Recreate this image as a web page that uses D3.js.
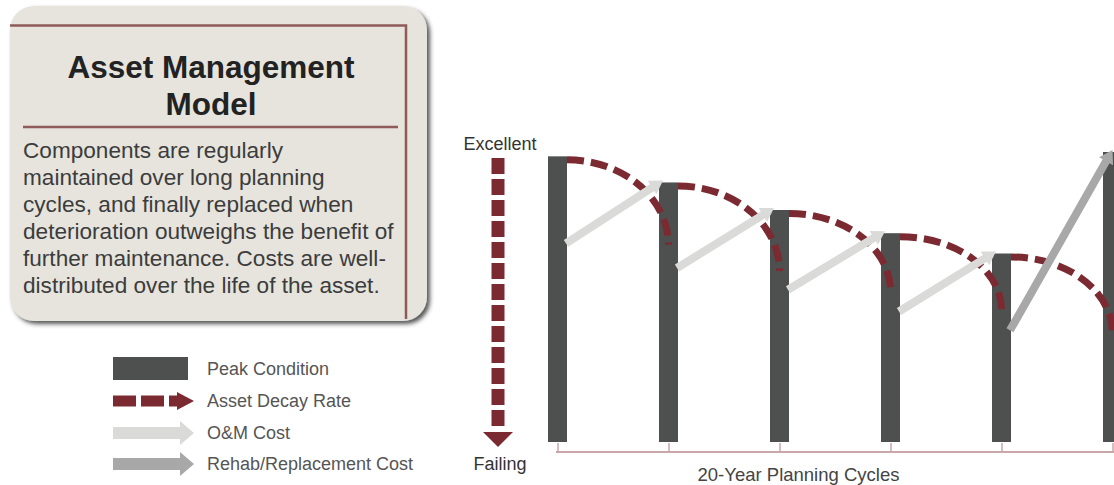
<!DOCTYPE html>
<html>
<head>
<meta charset="utf-8">
<script src="https://cdn.jsdelivr.net/npm/d3@7"></script>
<style>
  html, body { margin: 0; padding: 0; background: #ffffff; }
  svg { display: block; }
  text { font-family: "Liberation Sans", Arial, Helvetica, sans-serif; }
</style>
</head>
<body>
<svg id="chart" width="1114" height="485"></svg>
<script>
// Planning cycles (bar positions along the horizontal axis)
const cycles = [0, 1, 2, 3, 4, 5];
// Condition reached at the start of each cycle (0 = failing, 100 = excellent)
const peakCondition = [98.5, 89.5, 80, 72, 65, 100];
// Condition reached at the end of each decay curve
const decayEnd = [68, 59, 52, 45.5, 37.5];
// Condition at which spending starts in each cycle
const costStart = [68.5, 60, 52.5, 45, 38.5];
const costType = ["om", "om", "om", "om", "rehab"];

const titleLines = ["Asset Management", "Model"];
const bodyLines = [
  "Components are regularly",
  "maintained over long planning",
  "cycles, and finally replaced when",
  "deterioration outweighs the benefit of",
  "further maintenance. Costs are well-",
  "distributed over the life of the asset."
];
const legendLabels = ["Peak Condition", "Asset Decay Rate", "O&M Cost", "Rehab/Replacement Cost"];
const axisLabels = { top: "Excellent", bottom: "Failing", x: "20-Year Planning Cycles" };

const colors = {
  bar: "#4e5050",
  decay: "#7c2a31",
  om: "#dadad8",
  rehab: "#a8a8a8",
  boxFill: "#e6e4dd",
  boxLine: "#8f5a5a",
  axis: "#c9a7a9"
};

const svg = d3.select("#chart");
const defs = svg.append("defs");
const shadow = defs.append("filter").attr("id", "boxShadow")
  .attr("x", "-5%").attr("y", "-5%").attr("width", "115%").attr("height", "115%");
shadow.append("feDropShadow").attr("dx", 3).attr("dy", 3)
  .attr("stdDeviation", 2).attr("flood-color", "#3a3a3a").attr("flood-opacity", 0.85);

// ---------- Description panel ----------
const box = svg.append("g");
box.append("rect")
  .attr("x", 10).attr("y", 6).attr("width", 417).attr("height", 315)
  .attr("rx", 24).attr("ry", 24)
  .attr("fill", colors.boxFill)
  .attr("filter", "url(#boxShadow)");
box.append("path")
  .attr("d", "M10,25.5 H406 V319")
  .attr("fill", "none").attr("stroke", colors.boxLine).attr("stroke-width", 2.5);
box.append("line")
  .attr("x1", 23).attr("x2", 398).attr("y1", 127).attr("y2", 127)
  .attr("stroke", colors.boxLine).attr("stroke-width", 2.5);
box.selectAll("text.title").data(titleLines).join("text")
  .attr("class", "title")
  .attr("x", 211).attr("y", (d, i) => 78 + i * 37)
  .attr("text-anchor", "middle")
  .attr("font-size", 31.5).attr("font-weight", "bold").attr("fill", "#222")
  .text(d => d);
box.selectAll("text.body").data(bodyLines).join("text")
  .attr("class", "body")
  .attr("x", 23).attr("y", (d, i) => 158 + i * 27)
  .attr("font-size", 22.6).attr("fill", "#3c3c3c")
  .text(d => d);

// ---------- Legend ----------
const legend = svg.append("g");
const legY = [368.5, 401, 433, 464];
const lx0 = 113, lx1 = 180, lhead = 194;
legend.append("rect").attr("x", lx0).attr("y", 357).attr("width", 75).attr("height", 23)
  .attr("fill", colors.bar);
legend.append("line")
  .attr("x1", lx0).attr("x2", lx1 - 2).attr("y1", legY[1]).attr("y2", legY[1])
  .attr("stroke", colors.decay).attr("stroke-width", 11).attr("stroke-dasharray", "23,5");
legend.append("path")
  .attr("d", `M${lx1 - 3},${legY[1] - 9} L${lhead},${legY[1]} L${lx1 - 3},${legY[1] + 9} Z`)
  .attr("fill", colors.decay);
[[legY[2], colors.om], [legY[3], colors.rehab]].forEach(([cy, c]) => {
  legend.append("path")
    .attr("d", `M${lx0},${cy - 6} H${lx1} V${cy - 12} L${lhead},${cy} L${lx1},${cy + 12} V${cy + 6} H${lx0} Z`)
    .attr("fill", c);
});
legend.selectAll("text").data(legendLabels).join("text")
  .attr("x", 207).attr("y", (d, i) => legY[i] + 6)
  .attr("font-size", 18).attr("fill", "#555")
  .text(d => d);

// ---------- Chart ----------
const x = d3.scaleLinear().domain([0, 5]).range([557.5, 1112.5]);
const y = d3.scaleLinear().domain([0, 100]).range([442, 152]);
const barW = 19;

// condition scale arrow
const scaleX = 498;
svg.append("line")
  .attr("x1", scaleX).attr("x2", scaleX).attr("y1", 158).attr("y2", 430)
  .attr("stroke", colors.decay).attr("stroke-width", 13).attr("stroke-dasharray", "16,5");
svg.append("path")
  .attr("d", `M${scaleX - 15},432 L${scaleX + 15},432 L${scaleX},447 Z`)
  .attr("fill", colors.decay);
svg.append("text").attr("x", scaleX + 2).attr("y", 150).attr("text-anchor", "middle")
  .attr("font-size", 18).attr("fill", "#333").text(axisLabels.top);
svg.append("text").attr("x", scaleX + 2).attr("y", 470).attr("text-anchor", "middle")
  .attr("font-size", 18).attr("fill", "#333").text(axisLabels.bottom);

// cycle axis
const xAxis = d3.axisBottom(x).tickValues(cycles).tickSizeInner(-9).tickSizeOuter(0).tickFormat("");
const axisG = svg.append("g").attr("transform", "translate(0,452)").call(xAxis);
axisG.select(".domain").attr("stroke", colors.axis).attr("stroke-width", 2)
  .attr("d", `M${x(0) - 1.5},0 H1114`);
axisG.selectAll(".tick line").attr("stroke", colors.axis).attr("stroke-width", 1.5);
svg.append("text").attr("x", 798.5).attr("y", 481).attr("text-anchor", "middle")
  .attr("font-size", 18.5).attr("fill", "#444").text(axisLabels.x);

// peak condition bars
svg.selectAll("rect.bar").data(peakCondition).join("rect")
  .attr("class", "bar")
  .attr("x", (d, i) => x(cycles[i]) - barW / 2)
  .attr("width", barW)
  .attr("y", d => y(d))
  .attr("height", d => y(0) - y(d))
  .attr("fill", colors.bar);

// decay curves: quarter ellipse from the top of one bar down onto the next
const decayW = 7;
svg.selectAll("path.decay").data(decayEnd).join("path")
  .attr("class", "decay")
  .attr("fill", "none")
  .attr("stroke", colors.decay)
  .attr("stroke-width", decayW)
  .attr("stroke-dasharray", "17,7")
  .attr("d", (d, i) => {
    const x0 = x(cycles[i]) + barW / 2;
    const y0 = y(peakCondition[i]) + decayW / 2;
    const x1 = x(cycles[i + 1]);
    const y1 = y(d);
    return `M${x0},${y0} A${x1 - x0},${y1 - y0} 0 0 1 ${x1},${y1}`;
  });

// cost arrows: from the decayed condition up to the next peak
function arrowPath(x0, y0, x1, y1, w, headW, headL) {
  const dx = x1 - x0, dy = y1 - y0, len = Math.hypot(dx, dy);
  const ux = dx / len, uy = dy / len, nx = -uy, ny = ux;
  const bx = x1 - ux * headL, by = y1 - uy * headL;
  const p = [
    [x0 + nx * w / 2, y0 + ny * w / 2],
    [bx + nx * w / 2, by + ny * w / 2],
    [bx + nx * headW / 2, by + ny * headW / 2],
    [x1, y1],
    [bx - nx * headW / 2, by - ny * headW / 2],
    [bx - nx * w / 2, by - ny * w / 2],
    [x0 - nx * w / 2, y0 - ny * w / 2]
  ];
  return "M" + p.map(q => q.join(",")).join("L") + "Z";
}
svg.selectAll("path.cost").data(costStart).join("path")
  .attr("class", "cost")
  .attr("fill", (d, i) => costType[i] === "om" ? colors.om : colors.rehab)
  .attr("d", (d, i) => {
    const rehab = costType[i] === "rehab";
    const x0 = x(cycles[i]) + barW / 2 - 1;
    const y0 = y(d);
    const x1 = rehab ? x(cycles[i + 1]) : x(cycles[i + 1]) - barW / 2 + 4;
    const y1 = y(peakCondition[i + 1]) - 2;
    return arrowPath(x0, y0, x1, y1, 8, 16, 13);
  });
</script>
</body>
</html>
